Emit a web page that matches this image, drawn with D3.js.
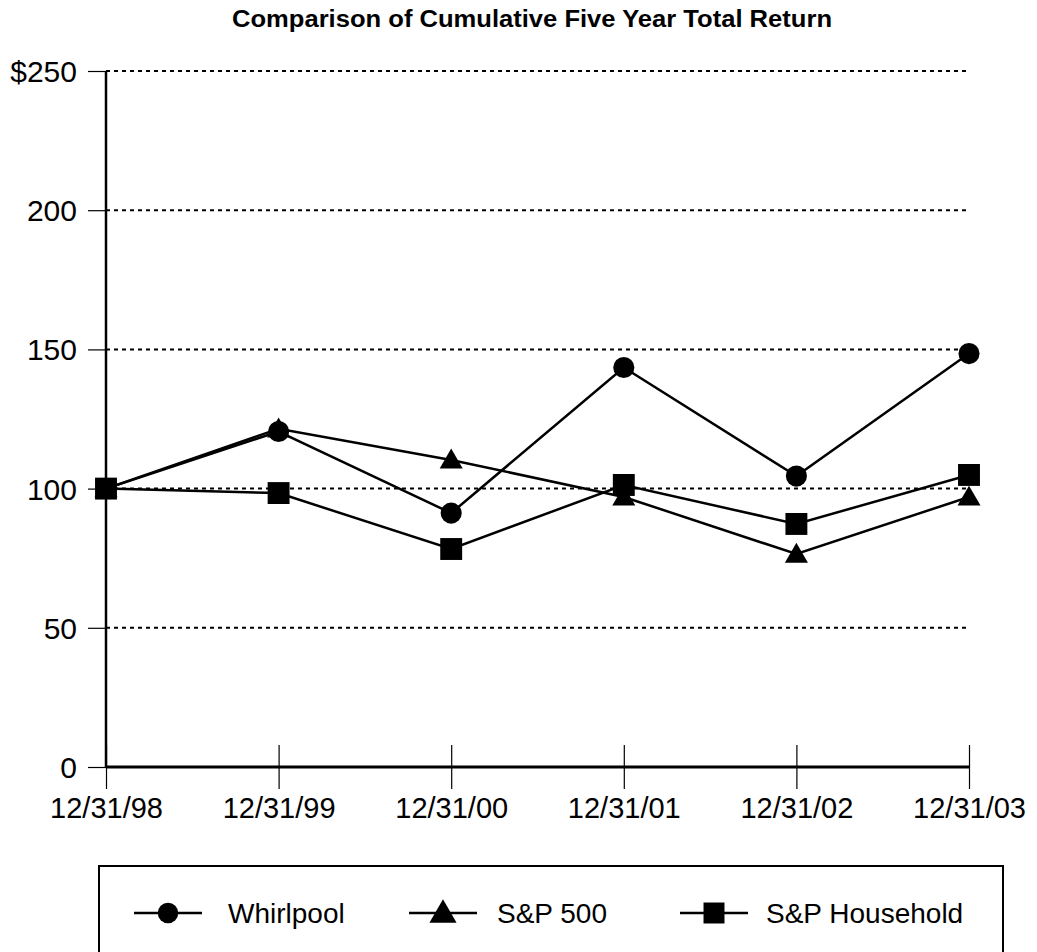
<!DOCTYPE html>
<html><head><meta charset="utf-8">
<script src="https://cdn.jsdelivr.net/npm/d3@7"></script>
<style>body{margin:0;background:#fff;} svg{display:block;font-family:"Liberation Sans",Arial,sans-serif;}</style>
</head><body>
<script>
const categories = ["12/31/98","12/31/99","12/31/00","12/31/01","12/31/02","12/31/03"];
const whirlpool = [100, 120.5, 91.2, 143.5, 104.5, 148.5];
const sp500 = [100, 121.5, 110.3, 97, 76.5, 97];
const spHousehold = [100, 98.4, 78.3, 101.3, 87.3, 104.9];
const yTicks = [0, 50, 100, 150, 200, 250];
const seriesNames = ["Whirlpool", "S&P 500", "S&P Household"];

const W = 1037, H = 952;
const svg = d3.select("body").append("svg").attr("width", W).attr("height", H);
const x = d3.scalePoint().domain(categories).range([106, 969]);
const y = d3.scaleLinear().domain([0, 250]).range([767, 71]);

svg.append("text").attr("x", 532).attr("y", 27).attr("text-anchor", "middle")
  .attr("font-weight", "bold").attr("font-size", 23)
  .attr("textLength", 600).attr("lengthAdjust", "spacingAndGlyphs")
  .text("Comparison of Cumulative Five Year Total Return");

// grid lines
svg.append("g").selectAll("line").data(yTicks.filter(d => d > 0)).join("line")
  .attr("x1", 106).attr("x2", 970).attr("y1", d => y(d)).attr("y2", d => y(d))
  .attr("stroke", "#000").attr("stroke-width", 2).attr("stroke-dasharray", "4,4");

// y axis
const yAxis = d3.axisLeft(y).tickValues(yTicks).tickSize(18).tickPadding(11)
  .tickFormat(d => d === 250 ? "$250" : d);
const gy = svg.append("g").attr("transform", "translate(106,0)").call(yAxis);
gy.select(".domain").remove();
gy.append("line").attr("x1", 0).attr("x2", 0).attr("y1", y(250)).attr("y2", y(0)).attr("stroke", "#000").attr("stroke-width", 2.5);
gy.selectAll(".tick line").attr("stroke-width", 1.2);
gy.selectAll(".tick text").attr("font-size", 30).attr("fill", "#000").attr("dy", "0.35em");

// x axis
const xAxis = d3.axisBottom(x).tickSize(22).tickPadding(8);
const gx = svg.append("g").attr("transform", `translate(0,${y(0)})`).call(xAxis);
gx.select(".domain").remove();
gx.selectAll(".tick line").attr("y1", -22).attr("stroke-width", 1.2);
gx.selectAll(".tick text").attr("font-size", 29).attr("fill", "#000").attr("dy", "0.71em");
svg.append("line").attr("x1", x(categories[0])).attr("x2", x(categories[5]))
  .attr("y1", y(0)).attr("y2", y(0)).attr("stroke", "#000").attr("stroke-width", 3);

const line = d3.line().x((d, i) => x(categories[i])).y(d => y(d));
const data = [whirlpool, sp500, spHousehold];
const shapes = [d3.symbolCircle, d3.symbolTriangle, d3.symbolSquare];
const sizes = [350, 230, 480];
const legSizes = [330, 320, 440];

data.forEach((s, k) => {
  svg.append("path").attr("d", line(s)).attr("fill", "none").attr("stroke", "#000").attr("stroke-width", 2.5);
});
data.forEach((s, k) => {
  svg.append("g").selectAll("path").data(s).join("path")
    .attr("transform", (d, i) => `translate(${x(categories[i])},${y(d) + (k === 1 ? 2 : 0)})`)
    .attr("d", d3.symbol().type(shapes[k]).size(sizes[k])).attr("fill", "#000");
});

// legend
svg.append("rect").attr("x", 99).attr("y", 866).attr("width", 904).attr("height", 100)
  .attr("fill", "none").attr("stroke", "#000").attr("stroke-width", 2);
const legX = [134, 409, 680];
const legT = [94, 88, 86];
seriesNames.forEach((n, k) => {
  const g = svg.append("g").attr("transform", `translate(${legX[k]},913)`);
  g.append("line").attr("x1", 0).attr("x2", 68).attr("stroke", "#000").attr("stroke-width", 2.5);
  g.append("path").attr("transform", `translate(34,${k === 1 ? 2 : 0})`).attr("d", d3.symbol().type(shapes[k]).size(legSizes[k])).attr("fill", "#000");
  g.append("text").attr("x", legT[k]).attr("y", 0).attr("dy", "0.35em").attr("font-size", 28).text(n);
});
</script>
</body></html>
